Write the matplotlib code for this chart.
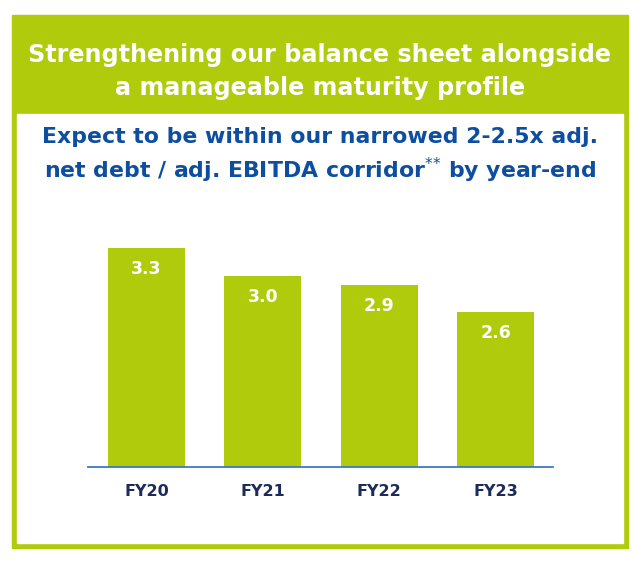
import matplotlib.pyplot as plt
from matplotlib.patches import Rectangle

years = ['FY20', 'FY21', 'FY22', 'FY23']
leverage = [3.3, 3.0, 2.9, 2.6]
value_labels = ['3.3', '3.0', '2.9', '2.6']

green = '#b0ca0c'
blue = '#0d4ea0'
navy = '#1d2b5a'

W, H = 640, 562
fig = plt.figure(figsize=(6.4, 5.62), dpi=100)

def fx(px):
    return px / W

def fy(py):
    return 1 - py / H

# outer frame, header band, inner white box
fig.patches.append(Rectangle((fx(12), fy(548)), fx(616), (548 - 15) / H,
                             transform=fig.transFigure, color=green, zorder=0))
fig.patches.append(Rectangle((fx(17), fy(543)), fx(606), (543 - 114) / H,
                             transform=fig.transFigure, color='white', zorder=1))

fig.text(0.5, fy(55), 'Strengthening our balance sheet alongside',
         ha='center', va='center', color='white', fontsize=17.2, fontweight='bold')
fig.text(0.5, fy(88), 'a manageable maturity profile',
         ha='center', va='center', color='white', fontsize=17.2, fontweight='bold')
fig.text(0.5, fy(137), 'Expect to be within our narrowed 2-2.5x adj.',
         ha='center', va='center', color=blue, fontsize=15.8, fontweight='bold')
fig.text(0.5, fy(170), r'net debt / adj. EBITDA corridor$^{{*}{*}}$ by year-end',
         ha='center', va='center', color=blue, fontsize=15.8, fontweight='bold')

# axes: bottom at y=467px, top at y=200px
ax = fig.add_axes([fx(88), fy(467), fx(553 - 88), (467 - 200) / H])
ax.set_zorder(2)
ax.patch.set_visible(False)
base = 0.905
scale = 91.4  # px per unit
ax.set_ylim(base, base + (467 - 200) / scale)
ax.set_xlim(-0.503, 3.494)

x = range(len(years))
ax.bar(x, [v - base for v in leverage], bottom=base, width=0.662, color=green)
for i, v in enumerate(leverage):
    ax.text(i, v - 21 / scale, value_labels[i], ha='center', va='center',
            color='white', fontsize=12.5, fontweight='bold')

ax.set_xticks(list(x))
ax.set_xticklabels(years, color=navy, fontsize=11.5, fontweight='bold')
ax.tick_params(axis='x', length=0, pad=12)
ax.set_yticks([])
for s in ['top', 'right', 'left']:
    ax.spines[s].set_visible(False)
ax.spines['bottom'].set_color('#3d78c4')
ax.spines['bottom'].set_linewidth(1.3)

fig.savefig('out.png', dpi=100)
